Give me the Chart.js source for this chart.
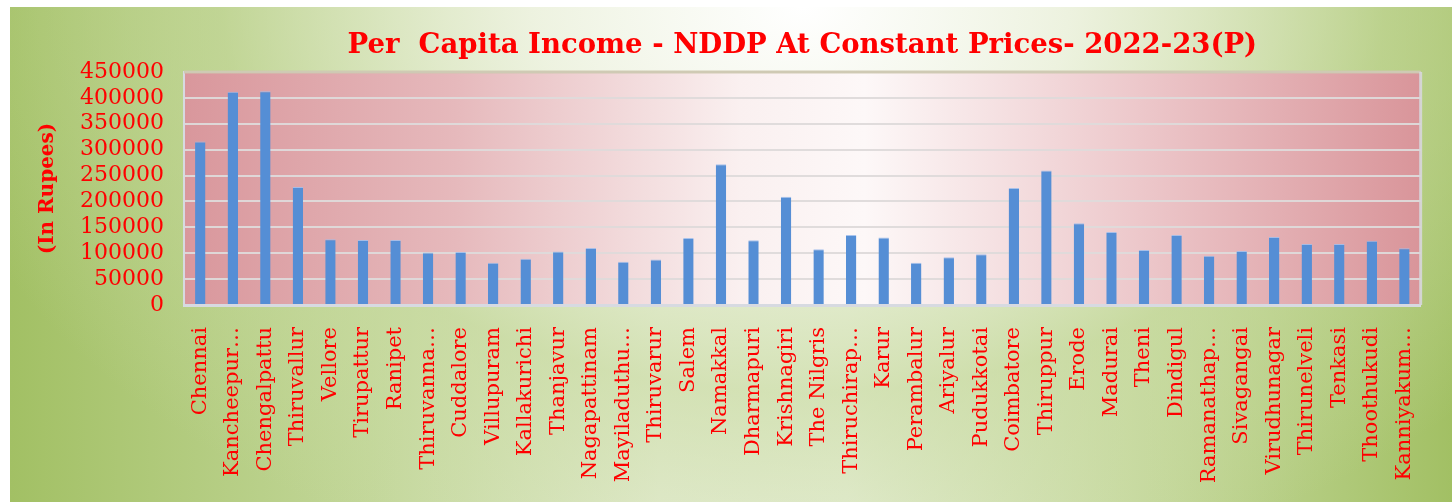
<!DOCTYPE html>
<html>
<head>
<meta charset="utf-8">
<script src="https://cdn.jsdelivr.net/npm/chart.js@4/dist/chart.umd.min.js"></script>
<style>
  html, body { margin: 0; padding: 0; background: #ffffff; }
  #wrap {
    position: absolute; left: 10px; top: 7px; width: 1442px; height: 495px;
    background:
      radial-gradient(ellipse 62% 120% at 55% 0%, rgba(255,255,255,1) 0%, rgba(240,244,228,0.9) 30%, rgba(200,218,160,0.6) 65%, rgba(160,192,100,0) 100%),
      linear-gradient(90deg, #a2c064 0%, #c3d79a 25%, #e4ecd2 45%, #e6eed6 58%, #c5d89c 80%, #a2c064 100%);
  }
  #usdChart { display: block; }
</style>
</head>
<body>
<div id="wrap"><canvas id="usdChart" width="1442" height="495"></canvas></div>
<script>
// districts, as shown on the axis (Excel cut the long ones)
const districts = ['Chennai', 'Kancheepur\u2026', 'Chengalpattu', 'Thiruvallur', 'Vellore', 'Tirupattur', 'Ranipet',
  'Thiruvanna\u2026', 'Cuddalore', 'Villupuram', 'Kallakurichi', 'Thanjavur', 'Nagapattinam', 'Mayiladuthu\u2026',
  'Thiruvarur', 'Salem', 'Namakkal', 'Dharmapuri', 'Krishnagiri', 'The Nilgris', 'Thiruchirap\u2026', 'Karur',
  'Perambalur', 'Ariyalur', 'Pudukkotai', 'Coimbatore', 'Thiruppur', 'Erode', 'Madurai', 'Theni', 'Dindigul',
  'Ramanathap\u2026', 'Sivagangai', 'Virudhunagar', 'Thirunelveli', 'Tenkasi', 'Thoothukudi', 'Kanniyakum\u2026'];

// per capita income, rupees
const perCapita = [316000, 412000, 413000, 228000, 127000, 125500, 125500,
  101500, 102500, 81500, 89500, 103500, 110000, 83500,
  88000, 129500, 272000, 125000, 209000, 107500, 135000, 130500,
  81500, 92000, 98000, 226000, 260000, 158000, 141000, 106000, 135000,
  95000, 104500, 131500, 118000, 118000, 124000, 109500];

const yTicks = [0, 50000, 100000, 150000, 200000, 250000, 300000, 350000, 400000, 450000];

const red = '#ff0000';

// pink plot area with a white glow in the middle
const plotBg = {
  id: 'plotBg',
  beforeDraw(chart) {
    const { ctx, chartArea: a } = chart;
    const g = ctx.createLinearGradient(a.left, 0, a.right, 0);
    g.addColorStop(0, '#d9979c');
    g.addColorStop(0.22, '#e6b9bc');
    g.addColorStop(0.45, '#faf0f0');
    g.addColorStop(0.55, '#fdf8f8');
    g.addColorStop(0.78, '#ecc6c9');
    g.addColorStop(1, '#d9959a');
    ctx.save();
    ctx.fillStyle = g;
    ctx.fillRect(a.left, a.top, a.right - a.left, a.bottom - a.top);
    ctx.restore();
  },
  afterDraw(chart) {
    const { ctx, chartArea: a } = chart;
    ctx.save();
    ctx.strokeStyle = 'rgba(205,200,175,0.9)';
    ctx.lineWidth = 3;
    ctx.beginPath();
    ctx.moveTo(a.left, a.top);
    ctx.lineTo(a.right, a.top);
    ctx.stroke();
    ctx.strokeStyle = 'rgba(215,215,220,0.9)';
    ctx.beginPath();
    ctx.moveTo(a.right, a.top);
    ctx.lineTo(a.right, a.bottom);
    ctx.stroke();
    ctx.restore();
  }
};

const ctx = document.getElementById('usdChart').getContext('2d');
const chart = new Chart(ctx, {
  type: 'bar',
  data: {
    labels: districts,
    datasets: [{
      label: 'Per Capita Income',
      data: perCapita,
      backgroundColor: '#558ed5',
      borderColor: 'rgba(160,190,235,0.9)',
      borderWidth: { top: 1, left: 0, right: 0, bottom: 0 },
      barPercentage: 0.32,
      categoryPercentage: 1.0
    }]
  },
  options: {
    responsive: false,
    animation: false,
    layout: { padding: { left: 0, right: 27, top: 0, bottom: 0 } },
    plugins: {
      legend: { display: false },
      tooltip: { enabled: false },
      title: {
        display: true,
        fullSize: false,
        text: 'Per  Capita Income - NDDP At Constant Prices- 2022-23(P)',
        color: red,
        font: { family: 'DejaVu Serif', size: 27.5, weight: 'bold', lineHeight: 1.2 },
        padding: { top: 22, bottom: 10 }
      }
    },
    scales: {
      x: {
        grid: { display: false, drawTicks: false },
        border: { color: 'rgba(215,218,225,1)', width: 3 },
        ticks: {
          color: red,
          font: { family: 'DejaVu Serif', size: 21 },
          minRotation: 90,
          maxRotation: 90,
          autoSkip: false,
          padding: 22
        },
        afterFit: s => { s.height = 197; }
      },
      y: {
        min: 0,
        max: 450000,
        afterBuildTicks: s => { s.ticks = yTicks.map(v => ({ value: v })); },
        grid: { color: 'rgba(222,218,218,0.95)', lineWidth: 2, drawTicks: false },
        border: { color: 'rgba(215,218,225,1)', width: 2 },
        ticks: {
          color: red,
          font: { family: 'DejaVu Serif', size: 22 },
          padding: 20,
          autoSkip: false,
          callback: v => String(v)
        },
        title: {
          display: true,
          text: '(In Rupees)',
          color: red,
          font: { family: 'DejaVu Serif', size: 20, weight: 'bold' },
          padding: { top: 26, bottom: 0 }
        },
        afterFit: s => { s.width = 174; }
      }
    }
  },
  plugins: [plotBg]
});
</script>
</body>
</html>
